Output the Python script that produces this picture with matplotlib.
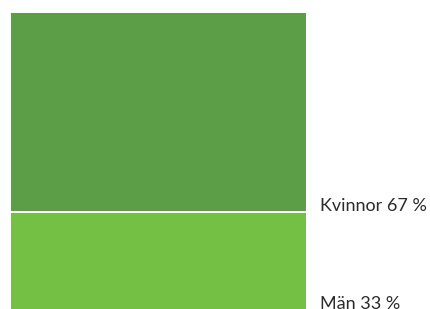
import matplotlib
matplotlib.use("Agg")
import matplotlib.pyplot as plt

categories = ["Män", "Kvinnor"]
values = [33, 67]
labels = ["Män 33 %", "Kvinnor 67 %"]
colors = ["#73C044", "#5B9E47"]

W, H = 431, 309
fig = plt.figure(figsize=(W / 100, H / 100), dpi=100)
ax = fig.add_axes([10 / W, -1.5 / H, 297 / W, 298.5 / H])

bottom = 0
for cat, val, lab, col in zip(categories, values, labels, colors):
    ax.bar(0, val, bottom=bottom, width=1.0, color=col, edgecolor="white", linewidth=1.4)
    ax.annotate(lab, xy=(0.5, bottom), xycoords="data", xytext=(9.5, 1.0),
                textcoords="offset points", ha="left", va="baseline",
                fontsize=13, family=["Lato", "DejaVu Sans"], color="#2b2b2b",
                annotation_clip=False)
    bottom += val

ax.set_xlim(-0.5, 0.5)
ax.set_ylim(0, sum(values))
ax.axis("off")

fig.savefig("out.png", dpi=100)
